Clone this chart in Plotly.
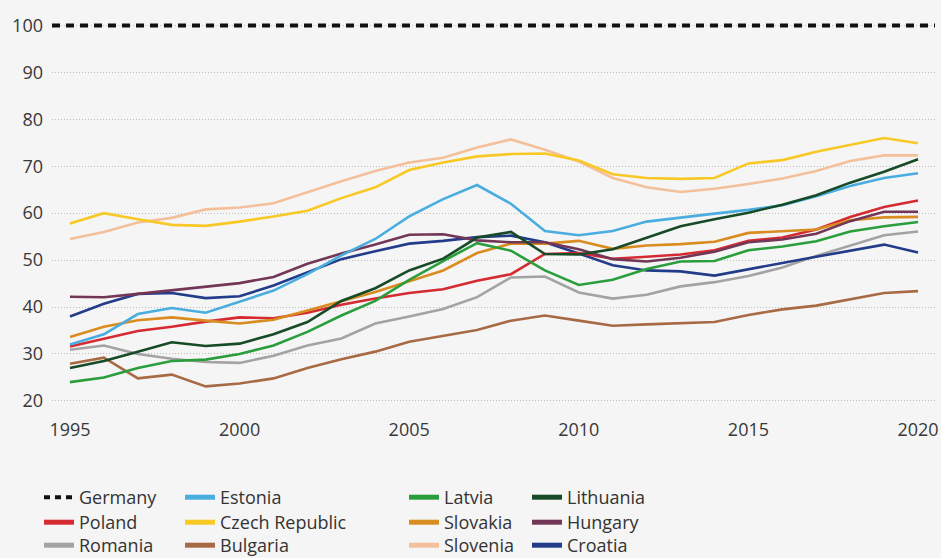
import plotly.graph_objects as go

years = list(range(1995, 2021))

germany = [100] * len(years)
estonia = [32.0, 34.2, 38.5, 39.8, 38.8, 41.2, 43.5, 47.0, 51.0, 54.5, 59.3, 63.0, 66.0, 62.0, 56.2, 55.3, 56.2, 58.2, 59.1, 59.9, 60.7, 61.7, 63.6, 65.8, 67.5, 68.5]
latvia = [24.0, 25.0, 27.0, 28.5, 28.8, 30.0, 31.8, 34.7, 38.2, 41.3, 45.8, 49.8, 53.6, 52.0, 47.8, 44.7, 45.8, 48.1, 49.7, 49.8, 52.1, 52.9, 54.0, 56.1, 57.2, 58.1]
lithuania = [27.0, 28.5, 30.5, 32.5, 31.7, 32.2, 34.2, 36.8, 41.3, 44.0, 47.8, 50.3, 54.8, 56.0, 51.3, 51.2, 52.3, 54.8, 57.2, 58.7, 60.1, 61.8, 63.8, 66.5, 68.8, 71.5]
poland = [31.6, 33.3, 34.9, 35.8, 36.9, 37.8, 37.6, 38.8, 40.5, 41.8, 43.0, 43.8, 45.6, 47.0, 51.3, 51.5, 50.3, 50.7, 51.2, 52.1, 54.1, 54.8, 56.5, 59.2, 61.3, 62.7]
czech = [57.8, 60.0, 58.7, 57.5, 57.3, 58.2, 59.3, 60.5, 63.2, 65.5, 69.2, 70.8, 72.1, 72.6, 72.7, 71.2, 68.3, 67.5, 67.3, 67.5, 70.6, 71.3, 73.1, 74.6, 76.0, 74.9]
slovakia = [33.6, 35.8, 37.2, 37.8, 37.1, 36.5, 37.3, 39.3, 41.2, 43.2, 45.5, 47.8, 51.5, 53.5, 53.5, 54.1, 52.4, 53.1, 53.4, 53.9, 55.8, 56.2, 56.5, 58.5, 59.1, 59.2]
hungary = [42.2, 42.1, 42.8, 43.6, 44.3, 45.1, 46.4, 49.2, 51.4, 53.3, 55.4, 55.5, 54.2, 53.8, 53.8, 52.3, 50.2, 49.7, 50.5, 51.8, 53.8, 54.4, 55.6, 58.3, 60.3, 60.3]
romania = [30.9, 31.8, 30.0, 29.0, 28.3, 28.1, 29.6, 31.8, 33.3, 36.5, 38.0, 39.6, 42.1, 46.3, 46.5, 43.1, 41.8, 42.6, 44.4, 45.3, 46.6, 48.4, 50.9, 53.1, 55.3, 56.1]
bulgaria = [27.9, 29.2, 24.8, 25.6, 23.1, 23.7, 24.8, 27.0, 28.9, 30.5, 32.6, 33.9, 35.1, 37.1, 38.2, 37.1, 36.0, 36.3, 36.6, 36.8, 38.3, 39.5, 40.3, 41.6, 43.0, 43.4]
slovenia = [54.5, 56.0, 58.0, 59.0, 60.8, 61.2, 62.1, 64.5, 66.8, 69.0, 70.8, 71.8, 74.0, 75.7, 73.5, 71.0, 67.5, 65.5, 64.5, 65.2, 66.2, 67.4, 69.0, 71.1, 72.3, 72.3]
croatia = [38.0, 40.7, 42.8, 43.0, 41.9, 42.3, 44.6, 47.4, 50.2, 51.9, 53.5, 54.1, 54.9, 55.2, 53.8, 51.4, 48.9, 47.8, 47.6, 46.7, 48.1, 49.4, 50.7, 52.0, 53.3, 51.6]

y_ticks = [20, 30, 40, 50, 60, 70, 80, 90, 100]
x_ticks = [1995, 2000, 2005, 2010, 2015, 2020]

series = [
    ("Romania", romania, "#a3a3a3"),
    ("Bulgaria", bulgaria, "#a86a45"),
    ("Slovenia", slovenia, "#f4c09b"),
    ("Croatia", croatia, "#223c8a"),
    ("Poland", poland, "#d62a32"),
    ("Czech Republic", czech, "#f8c825"),
    ("Slovakia", slovakia, "#d98c20"),
    ("Hungary", hungary, "#723757"),
    ("Estonia", estonia, "#4aade0"),
    ("Latvia", latvia, "#2b9e3c"),
    ("Lithuania", lithuania, "#174a26"),
]

# legend grid: rows x columns, as in the reference
legend_grid = [
    ["Germany", "Estonia", "Latvia", "Lithuania"],
    ["Poland", "Czech Republic", "Slovakia", "Hungary"],
    ["Romania", "Bulgaria", "Slovenia", "Croatia"],
]

fig = go.Figure()

for name, vals, col in series:
    fig.add_trace(go.Scatter(x=years, y=vals, mode="lines", name=name,
                             line=dict(color=col, width=2.6), showlegend=False,
                             hoverinfo="x+y+name"))

# Germany reference level across the full plot width
fig.add_shape(type="line", xref="paper", x0=0, x1=1, yref="y",
              y0=germany[0], y1=germany[-1],
              line=dict(color="#111111", width=4, dash="8px,6px"))

W, H = 941, 558
L, R, T, B = 52, 6, 16, 143
pw = W - L - R
ph = H - T - B

def px_to_paper_x(px):
    return (px - L) / pw

def px_to_paper_y(py):
    return (H - B - py) / ph

colors = {n: c for n, v, c in series}
leg_font = dict(family="Open Sans, sans-serif", size=18, color="#333333")
col_px = [39, 180, 404, 527]
row_top = [479, 504, 527]

layout_legends = {}
k = 0
for r, row in enumerate(legend_grid):
    for c, name in enumerate(row):
        k += 1
        key = "legend" if k == 1 else "legend%d" % k
        if name == "Germany":
            line = dict(color="#111111", width=4, dash="6px,5px")
        else:
            line = dict(color=colors[name], width=5)
        fig.add_trace(go.Scatter(x=[None], y=[None], mode="lines", name=name,
                                 line=line, legend=key, showlegend=True))
        layout_legends[key] = dict(
            orientation="v", yanchor="top", xanchor="left",
            x=px_to_paper_x(col_px[c]), y=px_to_paper_y(row_top[r]),
            bgcolor="rgba(0,0,0,0)", borderwidth=0, font=leg_font,
            itemclick=False, itemdoubleclick=False)

fig.update_layout(
    width=W, height=H,
    margin=dict(l=L, r=R, t=T, b=B, autoexpand=False),
    paper_bgcolor="#f5f5f5",
    plot_bgcolor="#f5f5f5",
    showlegend=True,
    xaxis=dict(range=[1994.47, 2020.5], tickvals=x_ticks, ticktext=[str(v) for v in x_ticks],
               showgrid=False, zeroline=False, showline=False, ticks="",
               tickfont=dict(family="Open Sans, sans-serif", size=18, color="#383838"),
               ticklabelstandoff=2, fixedrange=True),
    yaxis=dict(range=[17, 102], tickvals=y_ticks, ticktext=[str(v) for v in y_ticks],
               showgrid=True, gridcolor="#bdbdbd", gridwidth=1, griddash="1px,2px",
               zeroline=False, showline=False, ticks="",
               tickfont=dict(family="Open Sans, sans-serif", size=18, color="#383838"),
               ticklabelstandoff=8, fixedrange=True),
    **layout_legends,
)

fig.write_html(
    "out.html",
    config={"displayModeBar": False},
    post_script="document.body.style.margin='0';document.body.style.padding='0';"
                "document.body.style.background='#f5f5f5';"
                "document.body.style.overflow='hidden';",
)
